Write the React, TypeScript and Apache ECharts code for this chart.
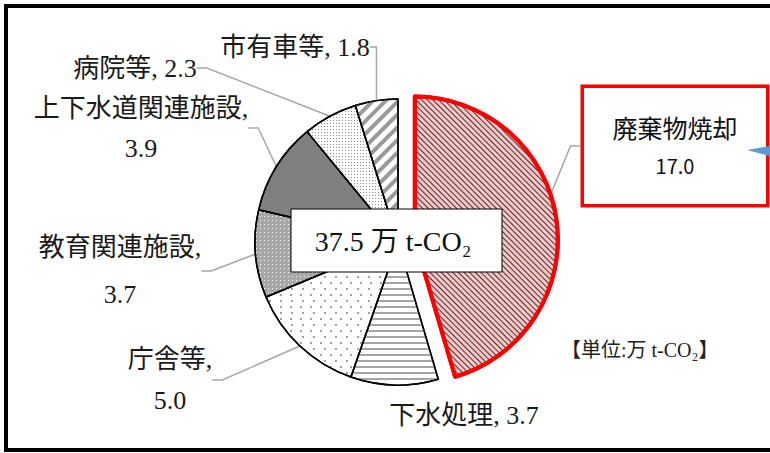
import React, { useEffect, useRef } from "react";
import * as echarts from "echarts";

const CATEGORIES = ["廃棄物焼却", "下水処理", "庁舎等", "教育関連施設", "上下水道関連施設", "病院等", "市有車等"];
const VALUES = [17.0, 3.7, 5.0, 3.7, 3.9, 2.3, 1.8];
const TOTAL_TEXT = "37.5";
const UNIT_TEXT = "万 t-CO₂";
const UNIT_NOTE = "【単位:万 t-CO₂】";

// label layout (centre of each label block) and line breaking
const LABEL_POS = [[675, 146], [464, 415], [170, 380], [120, 271], [141, 128], [135, 68], [295, 47]];
const LABEL_BREAK = [true, false, true, true, true, false, false];
const LABEL_LH = [38, 30, 41, 47, 40, 30, 30];
const EXPLODE = 17;
const CENTER = [398, 242];
const RADIUS = 143;

const SERIF = "'Liberation Serif', 'DejaVu Serif', 'Noto Sans CJK JP', serif";
const SANS = "'Noto Sans CJK JP', 'Noto Sans', sans-serif";

const STYLES: any[] = [
  {
    color: "#f7c6c6",
    borderColor: "#ff0000",
    borderWidth: 4,
    decal: { symbol: "rect", symbolSize: 1, color: "#4a3030", dashArrayX: [1, 0], dashArrayY: [1, 2.2], rotation: Math.PI / 4 },
  },
  {
    color: "#ffffff",
    decal: { symbol: "rect", symbolSize: 1, color: "#a6a6a6", dashArrayX: [1, 0], dashArrayY: [2, 4], rotation: 0 },
  },
  {
    color: "#ffffff",
    decal: { symbol: "rect", symbolSize: 1, color: "#a0a0a0", dashArrayX: [[1.4, 7.6], [0, 4.5, 1.4, 3.1]], dashArrayY: [1.4, 3.1], rotation: 0 },
  },
  {
    color: "#a8a8a8",
    decal: { symbol: "rect", symbolSize: 1, color: "#ffffff", dashArrayX: [1, 3], dashArrayY: [1, 3], rotation: 0 },
  },
  { color: "#808080", decal: { symbol: "none" } },
  {
    color: "#ffffff",
    decal: { symbol: "rect", symbolSize: 1, color: "#8c8c8c", dashArrayX: [1, 2], dashArrayY: [1, 2], rotation: 0 },
  },
  {
    color: "#ffffff",
    decal: { symbol: "rect", symbolSize: 1, color: "#9a9a9a", dashArrayX: [1, 0], dashArrayY: [3.5, 5], rotation: -Math.PI / 4 },
  },
];

const HIDDEN = { color: "rgba(0,0,0,0)", borderWidth: 0, decal: { symbol: "none" } };

export default function App() {
  const ref = useRef<HTMLDivElement>(null);
  useEffect(() => {
    if (!ref.current) return;
    const chart = echarts.init(ref.current, null, { renderer: "svg" });

    const styleOf = (i: number) => {
      const st = STYLES[i];
      return {
        color: st.color,
        borderColor: st.borderColor || "#000000",
        borderWidth: st.borderWidth || 1.5,
        decal: st.decal,
      };
    };

    // main pie: every slice except the exploded one, plus all labels
    const mainData = CATEGORIES.map((name, i) => {
      const isBox = i === 0;
      const label: any = isBox
        ? {
            formatter: (p: any) => `{n|${p.name}}\n{v|${p.value.toFixed(1)}}`,
            backgroundColor: "#ffffff",
            borderColor: "#ff0000",
            borderWidth: 3.5,
            padding: [20, 0, 20, 0],
            width: 182,
            rich: {
              n: { fontFamily: SANS, fontSize: 25, lineHeight: 38, color: "#111", align: "center" },
              v: { fontFamily: SANS, fontSize: 20, lineHeight: 38, color: "#111", align: "center" },
            },
          }
        : {
            formatter: (p: any) =>
              LABEL_BREAK[p.dataIndex] ? `${p.name},\n${p.value.toFixed(1)}` : `${p.name}, ${p.value.toFixed(1)}`,
            lineHeight: LABEL_LH[i],
          };
      return {
        name,
        value: VALUES[i],
        itemStyle: i === 0 ? HIDDEN : styleOf(i),
        label,
        labelLine: { show: i !== 1 },
      };
    });

    // exploded slice: same data, only the first slice visible, centre shifted along its bisector
    const total = VALUES.reduce((a, b) => a + b, 0);
    const mid = (VALUES[0] / 2 / total) * Math.PI * 2;
    const exCenter = [CENTER[0] + EXPLODE * Math.sin(mid), CENTER[1] - EXPLODE * Math.cos(mid)];
    const exData = CATEGORIES.map((name, i) => ({
      name,
      value: VALUES[i],
      itemStyle: i === 0 ? styleOf(i) : HIDDEN,
    }));

    chart.setOption({
      animation: false,
      backgroundColor: "#ffffff",
      series: [
        {
          type: "pie",
          z: 2,
          center: CENTER,
          radius: RADIUS,
          startAngle: 90,
          clockwise: true,
          avoidLabelOverlap: false,
          emphasis: { disabled: true },
          data: mainData,
          label: {
            show: true,
            position: "outside",
            fontFamily: SERIF,
            fontSize: 26,
            color: "#1a1a1a",
            align: "center",
          },
          labelLine: {
            show: true,
            length: 12,
            length2: 10,
            lineStyle: { color: "#a6a6a6", width: 1.5 },
          },
          labelLayout: (params: any) => {
            const p = LABEL_POS[params.dataIndex];
            return { x: p[0], y: p[1], align: "center", verticalAlign: "middle" };
          },
        },
        {
          type: "pie",
          z: 3,
          center: exCenter,
          radius: RADIUS,
          startAngle: 90,
          clockwise: true,
          emphasis: { disabled: true },
          label: { show: false },
          labelLine: { show: false },
          silent: true,
          data: exData,
        },
      ],
      graphic: [
        {
          type: "rect",
          z: 100,
          shape: { x: 6, y: 6, width: 820, height: 444 },
          style: { fill: "none", stroke: "#000000", lineWidth: 4 },
        },
        {
          type: "rect",
          z: 100,
          shape: { x: 291, y: 209, width: 211, height: 63 },
          style: { fill: "#ffffff", stroke: "#000000", lineWidth: 1 },
        },
        {
          type: "text",
          z: 101,
          x: 393,
          y: 241,
          style: {
            text: `${TOTAL_TEXT} ${UNIT_TEXT}`,
            fontFamily: SERIF,
            fontSize: 28,
            fill: "#111",
            align: "center",
            verticalAlign: "middle",
          },
        },
        {
          type: "text",
          z: 101,
          x: 561,
          y: 350,
          style: {
            text: UNIT_NOTE,
            fontFamily: SERIF,
            fontSize: 20,
            fill: "#222",
            align: "left",
            verticalAlign: "middle",
          },
        },
        {
          type: "polygon",
          z: 101,
          shape: { points: [[747, 150], [770, 146], [770, 156]] },
          style: { fill: "#5b9bd5" },
        },
      ],
    });
    return () => chart.dispose();
  }, []);
  return <div ref={ref} style={{ position: "absolute", left: 0, top: 0, width: 770, height: 453 }} />;
}
